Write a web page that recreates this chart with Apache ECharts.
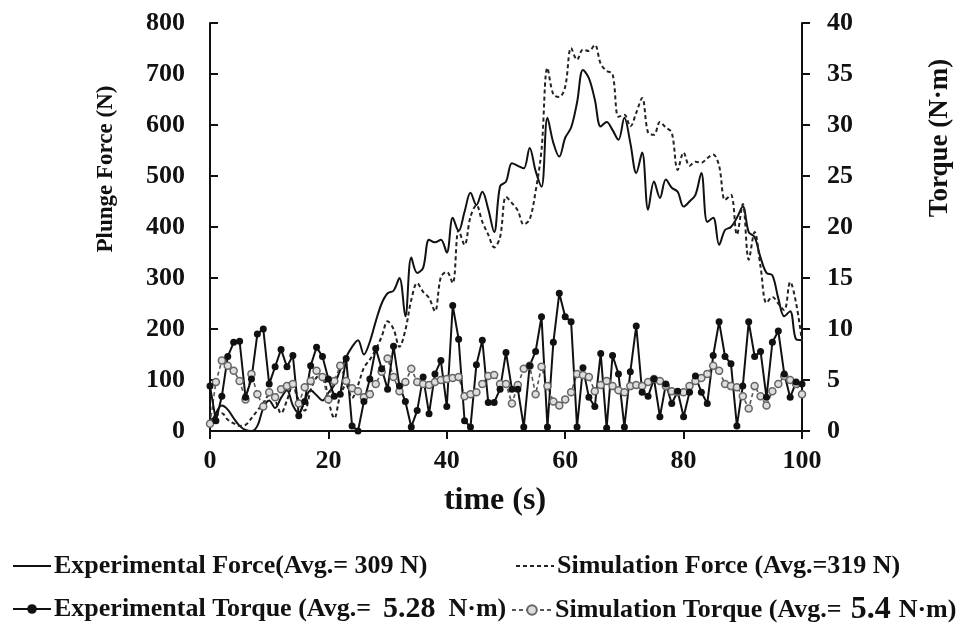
<!DOCTYPE html>
<html>
<head>
<meta charset="utf-8">
<script src="https://cdn.jsdelivr.net/npm/echarts@6/dist/echarts.min.js"></script>
<style>
html,body{margin:0;padding:0;background:#fff;}
#chart{width:967px;height:635px;}
</style>
</head>
<body>
<div id="chart"></div>
<script>
// time (s), one sample per second
var time = [];
for (var i = 0; i <= 100; i++) time.push(i);

var expForce = [8,35,50,42,25,10,2,0,10,45,60,45,65,80,50,35,60,80,70,60,
  75,90,120,145,165,178,150,175,215,250,270,275,300,225,340,310,320,375,370,375,
  350,418,392,430,467,443,469,435,390,480,489,525,520,515,555,510,479,614,565,538,
  575,595,644,708,692,650,597,606,590,571,614,565,506,546,434,489,457,493,477,469,
  440,450,463,506,410,418,365,394,400,418,440,390,380,340,310,305,260,225,235,180,178];

var simForce = [20,30,35,22,15,10,12,25,40,55,70,60,35,60,90,60,40,80,105,110,
  60,25,70,90,65,90,124,140,160,185,215,200,165,198,257,290,273,261,235,302,
  312,290,394,365,420,443,410,385,360,380,459,447,432,405,415,470,551,712,660,655,
  675,751,728,748,745,757,720,706,700,616,620,597,624,653,585,581,606,595,585,512,
  546,520,528,526,535,542,520,453,463,385,445,336,390,322,251,263,250,237,292,251,175];

var expTorque = [4.4,1.0,3.4,7.3,8.7,8.8,3.3,5.1,9.5,10.0,4.6,6.3,8.0,6.3,7.4,1.5,2.9,6.4,8.2,7.3,
  5.1,3.4,3.6,7.1,0.5,0,2.9,5.1,8.1,6.1,4.1,8.3,4.4,2.9,0.4,2.0,5.3,1.7,5.6,6.9,
  2.4,12.3,9.0,1.0,0.4,6.5,8.9,2.8,2.8,4.1,7.7,4.1,4.1,0.4,6.4,7.8,11.2,0.4,8.7,13.5,
  11.2,10.7,0.4,6.2,3.3,2.4,7.6,0.3,7.4,5.6,0.4,5.8,10.3,3.8,3.4,5.1,1.4,4.6,2.7,3.9,
  1.4,3.8,5.4,3.8,2.7,7.4,10.7,7.3,6.6,0.5,4.4,10.7,7.3,7.8,3.3,8.7,9.8,5.6,3.3,4.8,4.6];

var simTorque = [0.7,4.8,6.9,6.4,5.9,4.9,3.1,5.6,3.6,2.4,3.8,3.3,4.1,4.4,4.6,2.7,4.3,4.9,5.9,5.3,
  3.1,4.9,6.4,4.9,4.2,3.9,3.3,3.6,4.6,5.8,7.1,5.3,3.9,4.8,6.1,4.8,4.6,4.5,4.8,5.0,
  5.1,5.2,5.3,3.4,3.6,3.8,4.6,5.4,5.5,4.6,4.6,2.7,4.5,6.1,6.4,3.6,6.3,4.4,2.9,2.5,
  3.1,3.8,5.6,5.5,5.3,3.9,4.5,4.9,4.4,4.0,3.8,4.4,4.5,4.4,4.8,5.1,4.9,4.4,3.9,3.8,
  3.8,4.4,4.9,5.2,5.6,6.4,5.9,4.6,4.4,4.3,3.4,2.2,4.4,3.4,2.5,3.9,4.6,5.4,5.0,4.6,3.6];

var seriesNames = [
  'Experimental Force(Avg.= 309 N)',
  'Simulation Force (Avg.=319 N)',
  'Experimental Torque (Avg.= 5.28 N\u00b7m)',
  'Simulation Torque (Avg.= 5.4 N\u00b7m)'
];

function pairs(vals){ return time.map(function(t,i){ return [t, vals[i]]; }); }

var FONT = '"Liberation Serif","Times New Roman",serif';
var txt = {fontFamily: FONT, fontWeight: 'bold', color: '#111'};

var chart = echarts.init(document.getElementById('chart'), null, {renderer:'canvas'});

function legend(item, left, top, w, fmt){
  return {
    data: [item], left: left, top: top, orient: 'horizontal',
    itemWidth: w, itemHeight: 12, itemGap: 4, padding: 0,
    textStyle: Object.assign({fontSize: 26, padding:[0,0,0,-2]}, txt, {
      rich: {
        a: {fontFamily: FONT, fontWeight:'bold', fontSize:26, color:'#111'},
        b: {fontFamily: FONT, fontWeight:'bold', fontSize:30, color:'#111', padding:[0,13,0,12]},
        c: {fontFamily: FONT, fontWeight:'bold', fontSize:32, color:'#111', padding:[0,8,0,9]}
      }
    }),
    formatter: fmt || function(n){ return n; }
  };
}

var option = {
  backgroundColor: '#fff',
  animation: false,
  grid: {left: 210, right: 165, top: 23, bottom: 204, containLabel: false},
  legend: [
    legend({name: seriesNames[0], itemStyle: {opacity: 0}}, 12, 553, 38),
    legend({name: seriesNames[1], itemStyle: {opacity: 0}}, 515, 553, 38),
    legend({name: seriesNames[2]}, 12, 594, 38, function(){ return '{a|Experimental Torque (Avg.=}{b|5.28}{a|N\u00b7m)}'; }),
    legend({name: seriesNames[3]}, 511, 594, 40, function(){ return '{a|Simulation Torque (Avg.=}{c|5.4}{a|N\u00b7m)}'; })
  ],
  xAxis: {
    type: 'value', min: 0, max: 100, interval: 20,
    name: 'time (s)', nameLocation: 'middle', nameGap: 54,
    nameTextStyle: Object.assign({fontSize: 32, padding: [0, 22, 0, 0]}, txt),
    axisLine: {show: true, lineStyle: {color: '#111', width: 2}},
    axisTick: {show: true, inside: false, length: 8, lineStyle: {color:'#111', width: 2}},
    axisLabel: Object.assign({fontSize: 26, margin: 17}, txt),
    splitLine: {show: false}
  },
  yAxis: [
    {
      type: 'value', min: 0, max: 800, interval: 100, position: 'left',
      name: 'Plunge Force (N)', nameLocation: 'middle', nameGap: 92,
      nameTextStyle: Object.assign({fontSize: 23, padding: [0, 0, 0, 116]}, txt),
      axisLine: {show: true, lineStyle: {color: '#111', width: 2}},
      axisTick: {show: true, inside: true, length: 8, lineStyle: {color:'#111', width: 2}},
      axisLabel: Object.assign({fontSize: 26, margin: 25}, txt),
      splitLine: {show: false}
    },
    {
      type: 'value', min: 0, max: 40, interval: 5, position: 'right',
      name: 'Torque (N\u00b7m)', nameLocation: 'middle', nameGap: 125,
      nameRotate: 90,
      nameTextStyle: Object.assign({fontSize: 27, padding: [0, 0, 0, 178]}, txt),
      axisLine: {show: true, lineStyle: {color: '#111', width: 2}},
      axisTick: {show: true, inside: false, length: 8, lineStyle: {color:'#111', width: 2}},
      axisLabel: Object.assign({fontSize: 26, margin: 25}, txt),
      splitLine: {show: false}
    }
  ],
  series: [
    {
      name: seriesNames[0], type: 'line', yAxisIndex: 0, data: pairs(expForce),
      smooth: 0.35, symbol: 'none',
      lineStyle: {color: '#111', width: 2, type: 'solid'},
      itemStyle: {color: '#111', opacity: 0}
    },
    {
      name: seriesNames[1], type: 'line', yAxisIndex: 0, data: pairs(simForce),
      smooth: 0.35, symbol: 'none',
      lineStyle: {color: '#222', width: 2, type: [4,3]},
      itemStyle: {color: '#222', opacity: 0}
    },
    {
      name: seriesNames[3], type: 'line', yAxisIndex: 1, data: pairs(simTorque),
      symbol: 'circle', symbolSize: 7, showSymbol: true,
      lineStyle: {color: '#555', width: 1.6, type: [4,3]},
      itemStyle: {color: '#ddd', borderColor: '#666', borderWidth: 1.5}
    },
    {
      name: seriesNames[2], type: 'line', yAxisIndex: 1, data: pairs(expTorque),
      symbol: 'circle', symbolSize: 7, showSymbol: true,
      lineStyle: {color: '#111', width: 2, type: 'solid'},
      itemStyle: {color: '#111'}
    }
  ]
};
chart.setOption(option);
</script>
</body>
</html>
